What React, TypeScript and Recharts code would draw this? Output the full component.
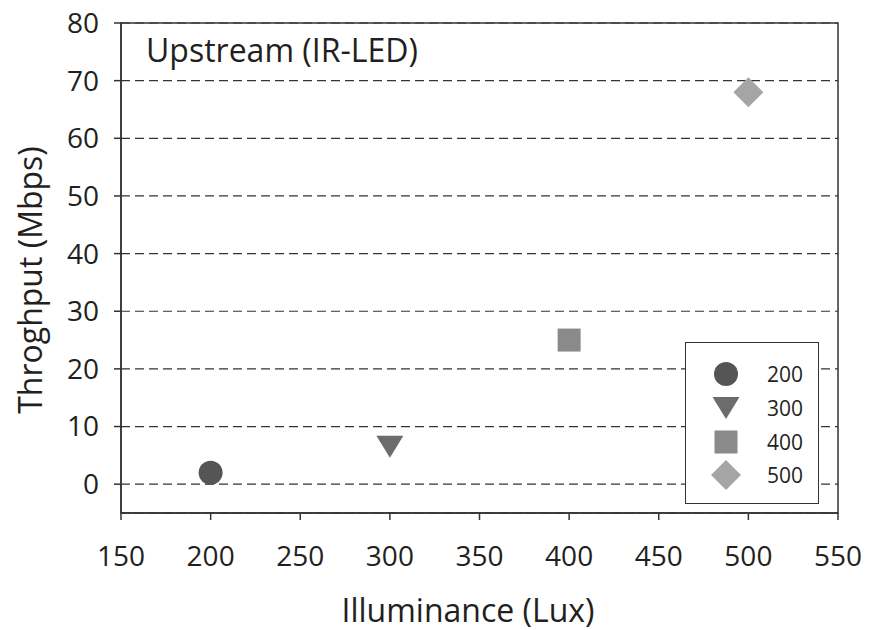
import React from 'react';
import { ScatterChart, Scatter, XAxis, YAxis, CartesianGrid, ReferenceArea, Legend } from 'recharts';

// ---- data ----
const seriesNames = ['200', '300', '400', '500'];
const illuminance = [200, 300, 400, 500];
const throughput = [2, 6.5, 25, 68];
const seriesColors = ['#555555', '#6c6c6c', '#8a8a8a', '#a5a5a5'];
const seriesShapes = ['circle', 'triangleDown', 'square', 'diamond'];
const xTicks = [150, 200, 250, 300, 350, 400, 450, 500, 550];
const yTicks = [0, 10, 20, 30, 40, 50, 60, 70, 80];
const titleText = 'Upstream (IR-LED)';
const xLabel = 'Illuminance (Lux)';
const yLabel = 'Throghput (Mbps)';

const FONT = "'Open Sans', 'Noto Sans', sans-serif";
const TEXT = '#231f20';
const AXIS = '#333333';

function Marker({ kind, cx, cy, fill }: { kind: string; cx: number; cy: number; fill: string }) {
  if (cx == null || cy == null) return null;
  switch (kind) {
    case 'circle':
      return <circle cx={cx} cy={cy} r={12} fill={fill} />;
    case 'triangleDown':
      return <polygon points={`${cx - 13.5},${cy - 11} ${cx + 13.5},${cy - 11} ${cx},${cy + 11}`} fill={fill} />;
    case 'square':
      return <rect x={cx - 11.5} y={cy - 11.5} width={23} height={23} fill={fill} />;
    case 'diamond':
      return <polygon points={`${cx},${cy - 15} ${cx + 15},${cy} ${cx},${cy + 15} ${cx - 15},${cy}`} fill={fill} />;
    default:
      return null;
  }
}

const seriesData = seriesNames.map((name, i) => ({
  name,
  color: seriesColors[i],
  shape: seriesShapes[i],
  data: [{ x: illuminance[i], y: throughput[i] }],
}));

function LegendBox() {
  const rows = [31, 65, 99, 132];
  return (
    <div
      style={{
        boxSizing: 'border-box',
        width: 134,
        height: 162,
        border: `1.5px solid ${AXIS}`,
        background: '#fff',
      }}
    >
      <svg width={131} height={159} style={{ display: 'block' }}>
        {seriesData.map((s, i) => (
          <g key={s.name}>
            <Marker kind={s.shape} cx={40} cy={rows[i]} fill={s.color} />
            <text
              x={81}
              y={rows[i]}
              dominantBaseline="central"
              fontSize={21}
              fontFamily={FONT}
              fill={TEXT}
            >
              {s.name}
            </text>
          </g>
        ))}
      </svg>
    </div>
  );
}

export default function App() {
  return (
    <div style={{ position: 'absolute', left: 0, top: 0, width: 876, height: 630, background: '#fff' }}>
      <ScatterChart
        width={876}
        height={630}
        margin={{ top: 23, right: 38, bottom: 0, left: 0 }}
        style={{ fontFamily: FONT }}
      >
        <CartesianGrid vertical={false} stroke={AXIS} strokeWidth={1.2} strokeDasharray="9 5" />
        <XAxis
          type="number"
          dataKey="x"
          domain={[150, 550]}
          ticks={xTicks}
          interval={0}
          height={117}
          tickSize={7}
          tickMargin={26}
          axisLine={{ stroke: AXIS, strokeWidth: 1.5 }}
          tickLine={{ stroke: AXIS, strokeWidth: 1.5 }}
          tick={{ fontSize: 28, fill: TEXT, fontFamily: FONT }}
        />
        <YAxis
          type="number"
          dataKey="y"
          domain={[-5, 80]}
          ticks={yTicks}
          interval={0}
          width={121}
          tickSize={7}
          tickMargin={15}
          axisLine={{ stroke: AXIS, strokeWidth: 1.5 }}
          tickLine={{ stroke: AXIS, strokeWidth: 1.5 }}
          tick={{ fontSize: 28, fill: TEXT, fontFamily: FONT }}
        />
        <ReferenceArea x1={150} x2={550} y1={-5} y2={80} fill="none" stroke={AXIS} strokeWidth={1.5} ifOverflow="visible" />
        {seriesData.map((s) => (
          <Scatter
            key={s.name}
            name={s.name}
            data={s.data}
            fill={s.color}
            isAnimationActive={false}
            shape={(p: any) => <Marker kind={s.shape} cx={p.cx} cy={p.cy} fill={s.color} />}
          />
        ))}
        <Legend
          layout="horizontal"
          verticalAlign="middle"
          align="center"
          wrapperStyle={{ left: 685, top: 342, width: 134, height: 162 }}
          content={() => <LegendBox />}
        />
        <text x={146} y={62} fontSize={32} fontFamily={FONT} fill={TEXT}>
          {titleText}
        </text>
        <text x={468} y={622} textAnchor="middle" fontSize={32} fontFamily={FONT} fill={TEXT}>
          {xLabel}
        </text>
        <text
          transform="translate(42,280) rotate(-90)"
          textAnchor="middle"
          fontSize={32}
          fontFamily={FONT}
          fill={TEXT}
        >
          {yLabel}
        </text>
      </ScatterChart>
    </div>
  );
}
